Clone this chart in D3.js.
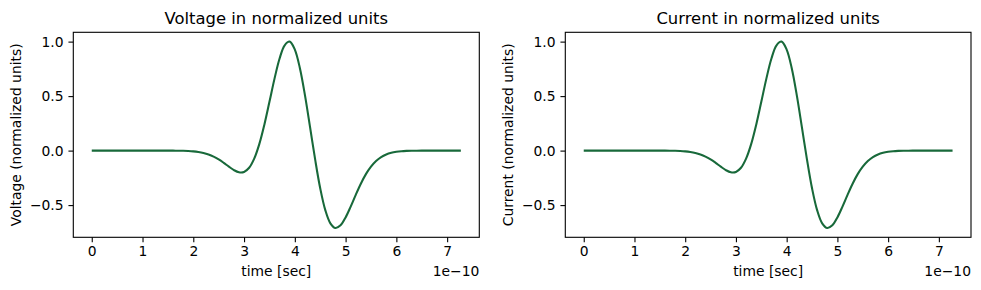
<!DOCTYPE html>
<html>
<head>
<meta charset="utf-8">
<script src="https://cdn.jsdelivr.net/npm/d3@7"></script>
<style>
  html, body { margin: 0; padding: 0; background: #ffffff; }
  svg { display: block; font-family: "DejaVu Sans", sans-serif; }
</style>
</head>
<body>
<svg id="chart" width="981" height="290"></svg>
<script>
// time axis in units of 1e-10 sec
const timeValues = [0.0,0.1,0.2,0.3,0.4,0.5,0.6,0.7,0.8,0.9,1.0,1.1,1.2,1.3,1.4,1.5,1.6,1.7,1.8,1.9,
  2.0,2.1,2.2,2.3,2.4,2.5,2.6,2.7,2.8,2.9,3.0,3.1,3.2,3.3,3.4,3.5,3.6,3.7,3.8,3.9,
  4.0,4.1,4.2,4.3,4.4,4.5,4.6,4.7,4.8,4.9,5.0,5.1,5.2,5.3,5.4,5.5,5.6,5.7,5.8,5.9,
  6.0,6.1,6.2,6.3,6.4,6.5,6.6,6.7,6.8,6.9,7.0,7.1,7.2,7.27];
const voltageValues = [0,0,0,0,0,0,0,0,0,0,0,0,0,0,-0.0001,-0.0002,-0.0004,-0.001,-0.0019,-0.0038,
  -0.0071,-0.0127,-0.0216,-0.0353,-0.0548,-0.0807,-0.1123,-0.1468,-0.1785,-0.1985,-0.1956,-0.1576,-0.074,0.0591,0.2383,0.4475,0.6605,0.8451,0.966,1.0,
  0.9268,0.7558,0.507,0.2153,-0.081,-0.346,-0.546,-0.667,-0.710,-0.685,-0.613,-0.514,-0.406,-0.304,-0.216,-0.147,-0.095,-0.059,-0.035,-0.020,
  -0.011,-0.0056,-0.0028,-0.0013,-0.0006,-0.0003,-0.0001,0,0,0,0,0,0,0];
const currentValues = [0,0,0,0,0,0,0,0,0,0,0,0,0,0,-0.0001,-0.0002,-0.0004,-0.001,-0.0019,-0.0038,
  -0.0071,-0.0127,-0.0216,-0.0353,-0.0548,-0.0807,-0.1123,-0.1468,-0.1785,-0.1985,-0.1956,-0.1576,-0.074,0.0591,0.2383,0.4475,0.6605,0.8451,0.966,1.0,
  0.9268,0.7558,0.507,0.2153,-0.081,-0.346,-0.546,-0.667,-0.710,-0.685,-0.613,-0.514,-0.406,-0.304,-0.216,-0.147,-0.095,-0.059,-0.035,-0.020,
  -0.011,-0.0056,-0.0028,-0.0013,-0.0006,-0.0003,-0.0001,0,0,0,0,0,0,0];
const xTicks = [0,1,2,3,4,5,6,7];
const yTicks = [-0.5,0.0,0.5,1.0];
const titles = ["Voltage in normalized units", "Current in normalized units"];
const yLabels = ["Voltage (normalized units)", "Current (normalized units)"];
const xLabel = "time [sec]";
const offsetLabel = "1e\u221210";

const svg = d3.select("#chart");
const lineColor = "#18693a";
const panels = [
  {left: 73.3, right: 479.3, values: voltageValues, title: titles[0], ylabel: yLabels[0], ylabelX: 21},
  {left: 565.3, right: 971, values: currentValues, title: titles[1], ylabel: yLabels[1], ylabelX: 513}
];
const plotTop = 32.3, plotBottom = 237.3;

function fmtY(v) {
  const s = v.toFixed(1);
  return s.replace("-", "\u2212");
}

panels.forEach(p => {
  const xmin = d3.min(timeValues), xmax = d3.max(timeValues);
  const xm = (xmax - xmin) * 0.05;
  const ymin = d3.min(p.values), ymax = d3.max(p.values);
  const ym = (ymax - ymin) * 0.05;
  const x = d3.scaleLinear().domain([xmin - xm, xmax + xm]).range([p.left, p.right]);
  const y = d3.scaleLinear().domain([ymin - ym, ymax + ym]).range([plotBottom, plotTop]);
  const g = svg.append("g");

  const xAxis = g.append("g").attr("transform", `translate(0,${plotBottom})`)
    .call(d3.axisBottom(x).tickValues(xTicks).tickFormat(d3.format("d")).tickSize(4.86).tickPadding(4.4));
  const yAxis = g.append("g").attr("transform", `translate(${p.left},0)`)
    .call(d3.axisLeft(y).tickValues(yTicks).tickFormat(fmtY).tickSize(4.86).tickPadding(4.86));
  [xAxis, yAxis].forEach(a => {
    a.select(".domain").remove();
    a.selectAll(".tick line").attr("stroke", "#000").attr("stroke-width", 1.1);
    a.selectAll(".tick text").attr("fill", "#000").style("font-size", "13.89px")
      .style("font-family", "'DejaVu Sans', sans-serif");
  });

  const line = d3.line().x((d, i) => x(timeValues[i])).y(d => y(d)).curve(d3.curveCatmullRom.alpha(0.5));
  g.append("path").datum(p.values).attr("d", line)
    .attr("fill", "none").attr("stroke", lineColor).attr("stroke-width", 2.08)
    .attr("stroke-linejoin", "round").attr("stroke-linecap", "butt");

  g.append("rect").attr("x", p.left).attr("y", plotTop)
    .attr("width", p.right - p.left).attr("height", plotBottom - plotTop)
    .attr("fill", "none").attr("stroke", "#000").attr("stroke-width", 1.1);

  g.append("text").attr("x", (p.left + p.right) / 2).attr("y", 24)
    .attr("text-anchor", "middle").style("font-size", "16.4px").text(p.title);
  g.append("text").attr("x", (p.left + p.right) / 2).attr("y", 276)
    .attr("text-anchor", "middle").style("font-size", "13.89px").text(xLabel);
  g.append("text").attr("x", p.right).attr("y", 275.5)
    .attr("text-anchor", "end").style("font-size", "13.89px").text(offsetLabel);
  g.append("text").attr("transform", `translate(${p.ylabelX},${(plotTop + plotBottom) / 2}) rotate(-90)`)
    .attr("text-anchor", "middle").style("font-size", "13.89px").text(p.ylabel);
});
</script>
</body>
</html>
